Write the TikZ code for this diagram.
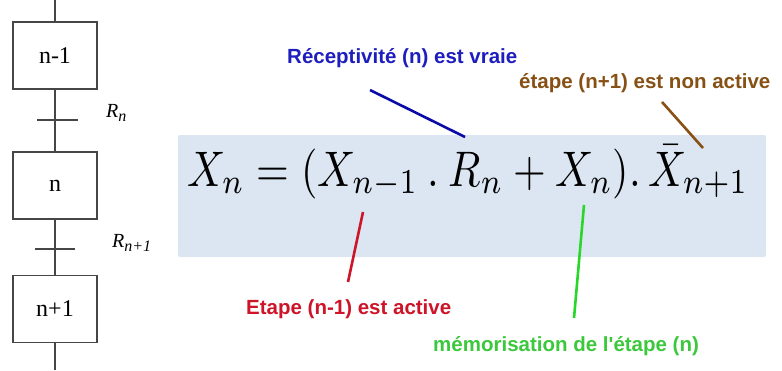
\documentclass[tikz,border=0pt]{standalone}
\usepackage{fontspec}
\setmainfont{Liberation Serif}
\newfontfamily\labfont{Liberation Sans}
\definecolor{eqbg}{RGB}{220,230,242}
\definecolor{gline}{RGB}{70,70,70}
\definecolor{cblue}{RGB}{10,10,170}
\definecolor{cbluet}{RGB}{30,30,190}
\definecolor{cbrown}{RGB}{135,80,20}
\definecolor{cred}{RGB}{205,20,40}
\definecolor{cgreen}{RGB}{40,215,40}
\definecolor{cgreent}{RGB}{60,200,60}
\newcommand{\mysub}[1]{\raisebox{-4.5pt}{\fontsize{16}{16}\selectfont #1}}
\tikzset{
  stepbox/.style={draw=gline, line width=1.1pt, minimum width=84pt, minimum height=67pt, inner sep=0pt, font=\fontsize{24}{26}\selectfont},
  link/.style={draw=gline, line width=1.1pt},
  recep/.style={font=\fontsize{20}{22}\selectfont\itshape, inner sep=0pt},
  lab/.style={font=\labfont\bfseries\fontsize{20.5}{22}\selectfont, inner sep=0pt, anchor=base west},
  ptr/.style={line width=2.6pt},
}
\begin{document}
\begin{tikzpicture}[x=1pt,y=-1pt]
\useasboundingbox (0,0) rectangle (782,370);
% equation box
\node[fill=eqbg, rounded corners=2pt, minimum width=588pt, minimum height=122pt, inner sep=0pt] (eqbox) at (472,196) {};
\node[inner sep=0pt, anchor=south west] (eq) at (187,199) {\resizebox{561pt}{41pt}{$X_n = (X_{n-1}\mathbin{.}R_n + X_n).\,\bar{X}_{n+1}$}};
% grafcet
\coordinate (top) at (55,0);
\coordinate (bot) at (55,370);
\node[stepbox] (s1) at (55,55.5) {n-1};
\node[stepbox] (s2) at (55,185.5) {n};
\node[stepbox] (s3) at (55,309) {n+1};
\coordinate (t1) at (55,120);
\coordinate (t2) at (55,249);
\draw[link] (top) -- (s1.north);
\draw[link] (s1.south) -- (s2.north);
\draw[link] (s2.south) -- (s3.north);
\draw[link] (s3.south) -- (bot);
\draw[link] ([xshift=-18pt]t1) -- ([xshift=23pt]t1);
\draw[link] ([xshift=-20pt]t2) -- ([xshift=20pt]t2);
\node[recep, anchor=base west] (r1) at (106,117) {R\mysub{n}};
\node[recep, anchor=base west] (r2) at (112,247) {R\mysub{n+1}};
% labels
\node[lab, text=cbluet] (lb) at (287,63) {Réceptivité (n) est vraie};
\node[lab, text=cbrown] (lbr) at (519,88) {étape (n+1) est non active};
\node[lab, text=cred] (lr) at (246,314) {Etape (n-1) est active};
\node[lab, text=cgreent] (lg) at (433,351) {mémorisation de l'étape (n)};
% pointers
\coordinate (b1) at (370,90); \coordinate (b2) at (465,137);
\coordinate (n1) at (662,102); \coordinate (n2) at (703,148);
\coordinate (e1) at (363,212); \coordinate (e2) at (348,282);
\coordinate (g1) at (584,205); \coordinate (g2) at (574,318);
\draw[ptr, cblue] (b1) -- (b2);
\draw[ptr, cbrown] (n1) -- (n2);
\draw[ptr, cred] (e1) -- (e2);
\draw[ptr, cgreen] (g1) -- (g2);
\end{tikzpicture}
\end{document}
